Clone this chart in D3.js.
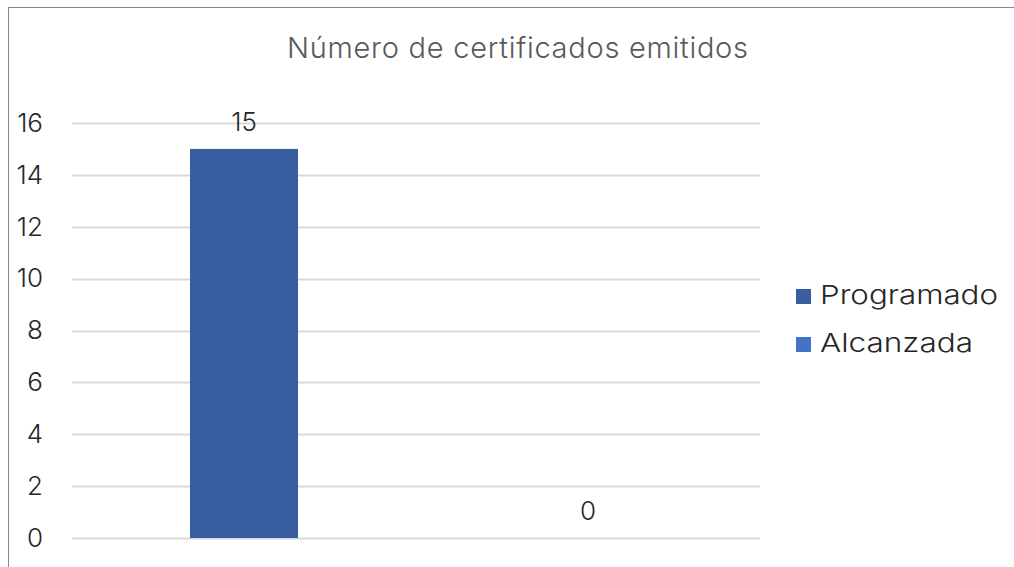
<!DOCTYPE html>
<html><head><meta charset="utf-8">
<script src="https://cdn.jsdelivr.net/npm/d3@7"></script>
<style>
html,body{margin:0;padding:0;background:#fff;}
svg{display:block;font-family:Inter,"Open Sans",sans-serif;}
</style></head>
<body>
<svg id="c" width="1014" height="567"></svg>
<script>
const title = "Número de certificados emitidos";
const series = ["Programado", "Alcanzada"];
const values = [15, 0];
const colors = ["#365EA0", "#4472C4"];
const yTicks = [0, 2, 4, 6, 8, 10, 12, 14, 16];
const legendWidths = [178, 153];

const svg = d3.select("#c");
const W = 1014, H = 567;

svg.append("rect").attr("x", 8.5).attr("y", 7.5).attr("width", W + 10).attr("height", H + 10)
  .attr("fill", "#fff").attr("stroke", "#898989").attr("stroke-width", 1);

const plot = {left: 72, right: 760, top: 123, bottom: 538};

const y = d3.scaleLinear().domain([0, 16]).range([plot.bottom, plot.top]);
const x = d3.scaleBand().domain(series).range([plot.left, plot.right])
  .paddingInner(0.686).paddingOuter(0.343);

svg.append("g").selectAll("line").data(yTicks).join("line")
  .attr("x1", plot.left).attr("x2", plot.right)
  .attr("y1", d => Math.round(y(d)) + 0.5).attr("y2", d => Math.round(y(d)) + 0.5)
  .attr("stroke", "#D9D9D9").attr("stroke-width", 2);

const yAxis = d3.axisLeft(y).tickValues(yTicks).tickSize(0).tickPadding(0);
const ga = svg.append("g").attr("transform", `translate(43,0)`).call(yAxis);
ga.select(".domain").remove();
ga.selectAll("text").attr("font-size", 26).attr("fill", "#262626")
  .attr("font-family", "Inter, 'Open Sans', sans-serif").attr("font-weight", 300);

svg.append("g").selectAll("rect").data(series).join("rect")
  .attr("x", d => x(d)).attr("width", x.bandwidth())
  .attr("y", (d, i) => y(values[i])).attr("height", (d, i) => y(0) - y(values[i]))
  .attr("fill", (d, i) => colors[i]);

svg.append("g").selectAll("text").data(series).join("text")
  .attr("x", d => x(d) + x.bandwidth() / 2)
  .attr("y", (d, i) => y(values[i]) - 18)
  .attr("text-anchor", "middle").attr("font-size", 26).attr("font-weight", 300)
  .attr("fill", "#262626")
  .text((d, i) => values[i]);

svg.append("text").attr("x", 287).attr("y", 58)
  .attr("font-size", 29).attr("font-weight", 300).attr("fill", "#595959")
  .attr("textLength", 461).attr("lengthAdjust", "spacing").text(title);

const lg = svg.append("g").selectAll("g").data(series).join("g")
  .attr("transform", (d, i) => `translate(796, ${289 + i * 48})`);
lg.append("rect").attr("width", 15).attr("height", 15).attr("fill", (d, i) => colors[i]);
lg.append("text").attr("x", 24).attr("y", 15).attr("font-size", 26).attr("font-weight", 300)
  .attr("fill", "#262626")
  .attr("textLength", (d, i) => legendWidths[i]).attr("lengthAdjust", "spacingAndGlyphs")
  .text(d => d);
</script>
</body></html>
